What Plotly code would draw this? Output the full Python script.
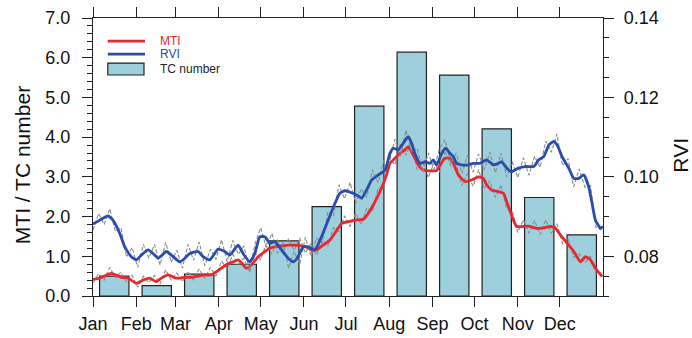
import plotly.graph_objects as go

# ---- data -------------------------------------------------------------
months = ["Jan", "Feb", "Mar", "Apr", "May", "Jun",
          "Jul", "Aug", "Sep", "Oct", "Nov", "Dec"]
month_start_day = [0, 31, 59, 90, 120, 151, 181, 212, 243, 273, 304, 334]

# monthly mean TC number (left axis)
tc_number = [0.50, 0.26, 0.55, 0.80, 1.39, 2.25,
             4.78, 6.14, 5.56, 4.21, 2.48, 1.54]

# smoothed MTI (left axis)
mti_day = [0, 4.8, 13.1, 20.3, 25.1, 31.0, 35.8, 40.6, 45.3, 48.9, 53.7, 59.7,
           65.7, 70.4, 75.2, 80.0, 84.7, 88.3, 91.9, 96.7, 100.3, 103.9, 106.2,
           109.8, 113.4, 118.2, 123.0, 126.6, 130.2, 134.9, 139.7, 144.5, 149.2,
           152.8, 156.4, 160.0, 164.8, 169.6, 173.1, 177.9, 182.7, 187.5, 193.4,
           197.0, 200.6, 205.4, 210.1, 212.5, 216.1, 219.7, 223.3, 225.6, 229.2,
           232.8, 236.4, 241.2, 245.9, 248.4, 251.9, 255.5, 257.9, 261.5, 266.3,
           271.0, 275.8, 279.4, 281.7, 285.3, 290.1, 293.7, 297.3, 300.9, 303.2,
           311.8, 316.6, 321.4, 327.4, 330.9, 334.5, 339.3, 344.1, 348.9, 352.4,
           356.0, 359.6, 364.4]
mti_val = [0.42, 0.45, 0.57, 0.47, 0.45, 0.32, 0.40, 0.45, 0.36, 0.45, 0.53, 0.45,
           0.47, 0.47, 0.50, 0.53, 0.53, 0.61, 0.70, 0.82, 0.86, 0.91, 0.84,
           0.70, 0.78, 0.99, 1.12, 1.20, 1.24, 1.26, 1.28, 1.28, 1.26,
           1.23, 1.16, 1.16, 1.28, 1.41, 1.58, 1.83, 1.87, 1.91, 1.93,
           2.08, 2.29, 2.63, 3.05, 3.34, 3.47, 3.59, 3.68, 3.76, 3.55,
           3.30, 3.17, 3.15, 3.16, 3.30, 3.47, 3.47, 3.34, 3.05, 2.88,
           2.92, 3.00, 2.96, 2.80, 2.67, 2.63, 2.59, 2.25, 1.91, 1.75,
           1.76, 1.71, 1.71, 1.75, 1.71, 1.54, 1.33, 1.12, 0.86, 0.99,
           0.91, 0.70, 0.49]

# smoothed RVI (right axis)
rvi_day = [0, 7.2, 10.7, 14.3, 19.1, 22.7, 27.4, 31.0, 34.6, 39.4, 44.2, 46.6,
           52.5, 56.1, 62.1, 65.7, 69.3, 75.2, 78.8, 83.6, 89.5, 94.3, 97.9,
           103.9, 107.4, 112.2, 115.8, 119.4, 123.0, 126.6, 130.2, 134.9, 139.7,
           143.3, 146.8, 150.4, 154.0, 158.8, 163.5, 168.3, 173.1, 176.7, 180.3,
           185.0, 189.8, 192.2, 195.8, 199.4, 204.2, 209.0, 212.5, 214.9, 218.5,
           222.1, 225.6, 228.0, 230.4, 234.0, 237.6, 241.2, 243.6, 245.9, 249.5,
           252.4, 255.5, 257.9, 260.2, 263.8, 268.6, 272.2, 277.0, 281.7, 286.5,
           290.1, 292.5, 296.1, 299.6, 304.4, 309.2, 315.4, 319.0, 322.6, 326.2,
           329.7, 332.2, 335.7, 340.5, 344.1, 347.6, 351.2, 354.8, 357.2, 359.6,
           363.2, 365.0]
rvi_val = [0.0881, 0.0896, 0.0902, 0.0891, 0.0858, 0.0824, 0.0799, 0.0791, 0.0803,
           0.0816, 0.0803, 0.0795, 0.0812, 0.0803, 0.0786, 0.0795, 0.0807, 0.0812,
           0.0799, 0.0791, 0.0818, 0.0812, 0.0803, 0.0828, 0.0807, 0.0786, 0.0807,
           0.0849, 0.0849, 0.0833, 0.0837, 0.0816, 0.0795, 0.0786, 0.0799, 0.0824,
           0.0824, 0.0816, 0.0849, 0.0891, 0.0933, 0.0959, 0.0965, 0.0960, 0.0952,
           0.0946, 0.0967, 0.0992, 0.1005, 0.1017, 0.1059, 0.1072, 0.1068, 0.1085,
           0.1101, 0.1085, 0.1059, 0.1034, 0.1038, 0.1034, 0.1043, 0.1030, 0.1059,
           0.1072, 0.1059, 0.1051, 0.1034, 0.1030, 0.1030, 0.1034, 0.1034, 0.1043,
           0.1030, 0.1034, 0.1038, 0.1022, 0.1013, 0.1022, 0.1026, 0.1026, 0.1043,
           0.1051, 0.1080, 0.1089, 0.1080, 0.1051, 0.1022, 0.0996, 0.0996, 0.1005,
           0.0975, 0.0933, 0.0891, 0.0871, 0.0875]

# unsmoothed values, every 4th day
raw_day = list(range(0, 365, 4))
mti_raw = [0.34, 0.56, 0.40, 0.72, 0.46, 0.60, 0.34, 0.52, 0.22, 0.50, 0.34, 0.52,
           0.30, 0.66, 0.40, 0.58, 0.36, 0.62, 0.40, 0.68, 0.44, 0.72, 0.50, 0.88,
           0.68, 1.05, 0.80, 0.95, 0.60, 1.08, 0.92, 1.32, 1.05, 1.42, 1.12, 1.45,
           1.15, 1.46, 1.08, 1.32, 1.02, 1.42, 1.25, 1.72, 1.62, 2.02, 1.75, 2.08,
           1.80, 2.22, 2.12, 2.72, 2.70, 3.50, 3.30, 3.82, 3.55, 3.88, 3.18, 3.36,
           2.98, 3.35, 3.12, 3.66, 3.28, 3.32, 2.78, 3.08, 2.76, 3.18, 2.70, 2.90,
           2.48, 2.80, 2.20, 2.15, 1.60, 1.92, 1.58, 1.90, 1.55, 1.92, 1.58, 1.82,
           1.32, 1.46, 0.98, 1.06, 0.84, 1.00, 0.56, 0.58]
rvi_raw = [0.0866, 0.0908, 0.0880, 0.0920, 0.0862, 0.0872, 0.0798, 0.0822, 0.0772,
           0.0830, 0.0795, 0.0830, 0.0778, 0.0835, 0.0785, 0.0815, 0.0770, 0.0830,
           0.0790, 0.0836, 0.0776, 0.0818, 0.0792, 0.0842, 0.0786, 0.0840, 0.0805,
           0.0826, 0.0765, 0.0832, 0.0872, 0.0822, 0.0858, 0.0808, 0.0834, 0.0770,
           0.0812, 0.0780, 0.0848, 0.0800, 0.0846, 0.0832, 0.0912, 0.0900, 0.0980,
           0.0945, 0.0986, 0.0934, 0.0970, 0.0948, 0.1018, 0.0985, 0.1040, 0.1035,
           0.1095, 0.1052, 0.1118, 0.1062, 0.1072, 0.1012, 0.1060, 0.1018, 0.1072,
           0.1094, 0.1035, 0.1060, 0.1008, 0.1054, 0.1012, 0.1058, 0.1018, 0.1062,
           0.1010, 0.1060, 0.1000, 0.1038, 0.0998, 0.1048, 0.1004, 0.1052, 0.1024,
           0.1090, 0.1062, 0.1108, 0.1028, 0.1046, 0.0975, 0.1020, 0.0974, 0.0978,
           0.0872, 0.0866]

left_ticks = [0, 1, 2, 3, 4, 5, 6, 7]
right_ticks = [0.08, 0.10, 0.12, 0.14]

# ---- styling ----------------------------------------------------------
RED = "#e8282c"
BLUE = "#2a4cad"
BAR_FILL = "#9ecfdc"
GREY = "#8a8a8a"
INK = "#222222"
FONT = "Liberation Sans, Arial, Helvetica, sans-serif"

days_in_year = 365
bar_centers = [(i + 0.5) * days_in_year / 12 for i in range(12)]

fig = go.Figure()

fig.add_trace(go.Bar(
    x=bar_centers, y=tc_number, width=21, name="TC number",
    marker=dict(color=BAR_FILL, line=dict(color=INK, width=1.2)),
    yaxis="y", showlegend=False))

fig.add_trace(go.Scatter(
    x=raw_day, y=mti_raw, mode="lines", yaxis="y", showlegend=False,
    line=dict(color=GREY, width=1.1, dash="4px,2px")))

fig.add_trace(go.Scatter(
    x=mti_day, y=mti_val, mode="lines", name="MTI", yaxis="y", showlegend=False,
    line=dict(color=RED, width=2.8, shape="spline", smoothing=0.5)))

fig.add_trace(go.Scatter(
    x=raw_day, y=rvi_raw, mode="lines", yaxis="y2", showlegend=False,
    line=dict(color=GREY, width=1.1, dash="4px,2px")))

fig.add_trace(go.Scatter(
    x=rvi_day, y=rvi_val, mode="lines", name="RVI", yaxis="y2", showlegend=False,
    line=dict(color=BLUE, width=2.8, shape="spline", smoothing=0.5)))

axis_common = dict(
    showline=True, linecolor=INK, linewidth=1.3,
    ticks="outside", ticklen=10, tickwidth=1.3, tickcolor=INK,
    showgrid=False, zeroline=False, automargin=False,
    tickfont=dict(family=FONT, size=18, color="#111111"),
)

# custom legend in the upper-left corner of the plotting area
x0, x1, xt = 0.029, 0.102, 0.128
shapes = [
    dict(type="line", xref="paper", yref="paper", x0=x0, x1=x1, y0=0.917, y1=0.917,
         line=dict(color=RED, width=2.8)),
    dict(type="line", xref="paper", yref="paper", x0=x0, x1=x1, y0=0.870, y1=0.870,
         line=dict(color=BLUE, width=2.8)),
    dict(type="rect", xref="paper", yref="paper", x0=x0, x1=x1 - 0.002, y0=0.795, y1=0.838,
         fillcolor=BAR_FILL, line=dict(color=INK, width=1.2)),
]
annotations = [
    dict(text="MTI", x=xt, y=0.917, xref="paper", yref="paper", xanchor="left",
         yanchor="middle", showarrow=False, font=dict(family=FONT, size=12, color=RED)),
    dict(text="RVI", x=xt, y=0.870, xref="paper", yref="paper", xanchor="left",
         yanchor="middle", showarrow=False, font=dict(family=FONT, size=12, color=BLUE)),
    dict(text="TC number", x=xt, y=0.817, xref="paper", yref="paper", xanchor="left",
         yanchor="middle", showarrow=False, font=dict(family=FONT, size=12, color="#222222")),
    dict(text="MTI / TC number", x=-0.139, y=0.471, xref="paper", yref="paper",
         xanchor="center", yanchor="middle", textangle=-90, showarrow=False,
         font=dict(family=FONT, size=21, color="#111111")),
    dict(text="RVI", x=1.153, y=0.505, xref="paper", yref="paper",
         xanchor="center", yanchor="middle", textangle=-90, showarrow=False,
         font=dict(family=FONT, size=21, color="#111111")),
]

fig.update_layout(
    width=692, height=338, autosize=False,
    margin=dict(l=93, r=89, t=18, b=42, autoexpand=False),
    paper_bgcolor="white", plot_bgcolor="white",
    showlegend=False,
    xaxis=dict(range=[0, days_in_year], tickmode="array",
               tickvals=month_start_day, ticktext=months, mirror="ticks",
               ticklabelstandoff=1, **axis_common),
    yaxis=dict(range=[0, 7], tickmode="array", tickvals=left_ticks,
               ticktext=[f"{v:.1f}" for v in left_ticks], ticklabelstandoff=8,
               minor=dict(ticks="outside", ticklen=5, tickwidth=1.1, tickcolor=INK,
                          tickmode="linear", tick0=0, dtick=0.2, showgrid=False),
               **axis_common),
    yaxis2=dict(range=[0.07, 0.14], overlaying="y", side="right",
                tickmode="array", tickvals=right_ticks,
                ticktext=[f"{v:.2f}" for v in right_ticks], ticklabelstandoff=6,
                minor=dict(ticks="outside", ticklen=5, tickwidth=1.1, tickcolor=INK,
                           tickmode="linear", tick0=0.07, dtick=0.005, showgrid=False),
                **axis_common),
    shapes=shapes,
    annotations=annotations,
)

fig.write_html("out.html")
